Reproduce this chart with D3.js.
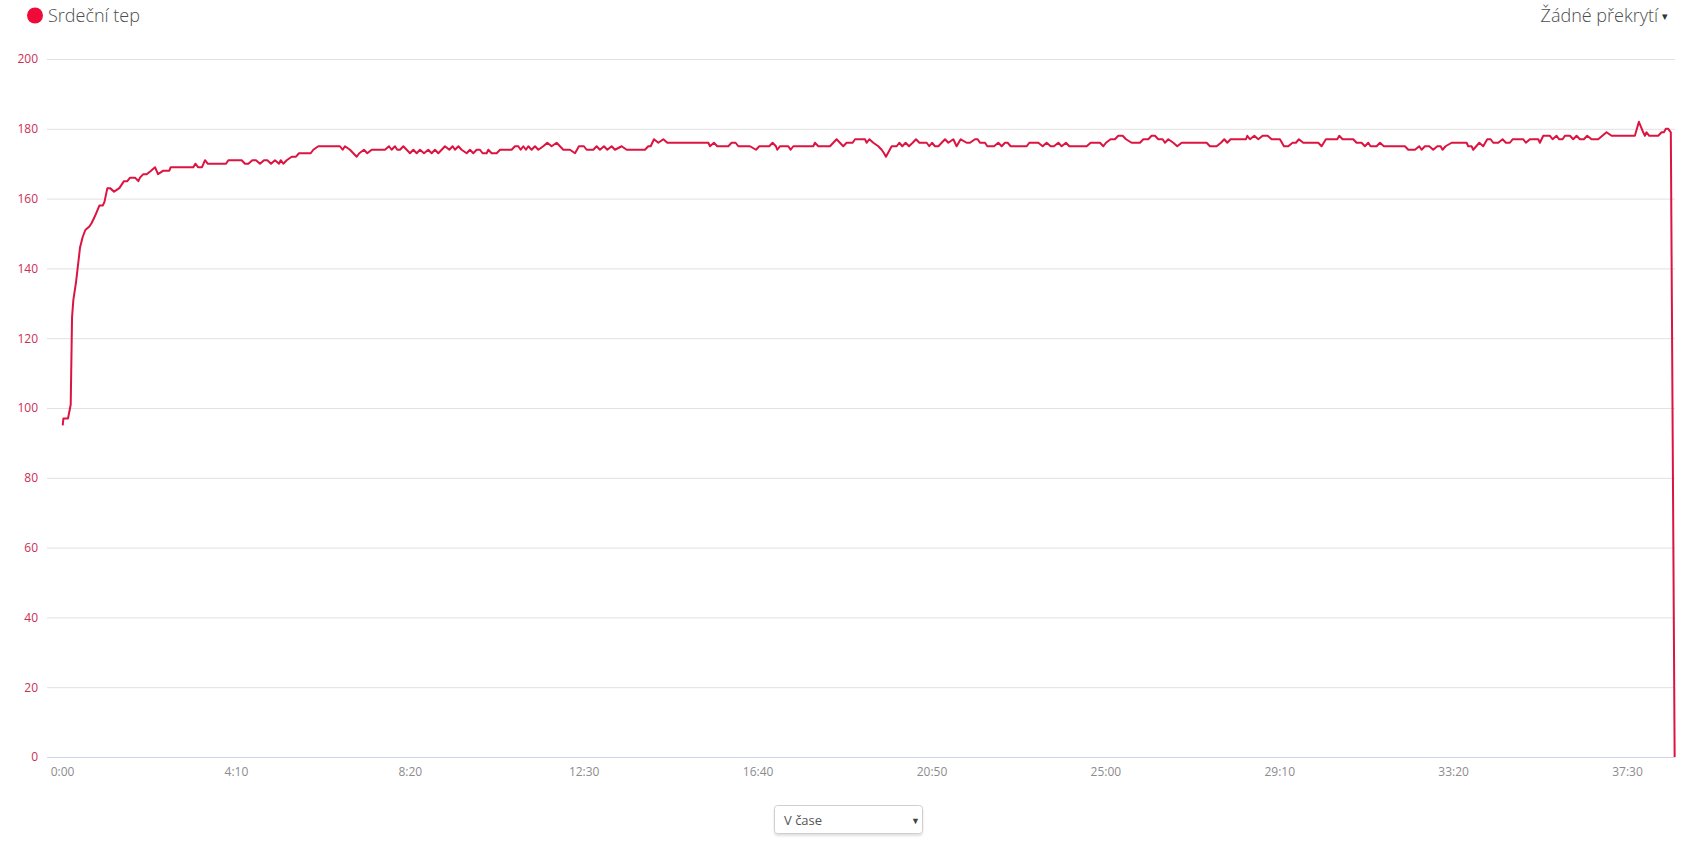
<!DOCTYPE html>
<html><head><meta charset="utf-8">
<script src="https://cdn.jsdelivr.net/npm/d3@7"></script>
<style>
body{margin:0;background:#fff;}
svg{display:block;font-family:"Open Sans",sans-serif;}
</style>
</head><body>
<svg id="chart" width="1684" height="859"></svg>
<script>
const seriesName = "Srdeční tep";
const overlayLabel = "Žádné překrytí";
const modeLabel = "V čase";

// [seconds, bpm]
const heartRateSamples = [
[1,95],[2,97],[8.6,97],[12.5,101],[14.4,126],[16.3,131],[20.1,136],[25.9,146],[29.7,149],[33.5,151],[39.3,152],[42.6,153],[47.4,155],[53.7,158],[58.5,158],[60.9,159],[65.2,163],[69,163],[74.8,162],[82.4,163],[89.1,165],[93.9,165],[97.8,166],[105,166],[109.7,165],[112.1,166],[116.9,167],[121.7,167],[128,168],[133.7,169],[138,167],[145.7,168],[154.3,168],[156.2,169],[188.8,169],[191.7,170],[195.5,169],[201.3,169],[205.6,171],[209.4,170],[235.8,170],[239.1,171],[258.3,171],[263.1,170],[267.9,170],[273.6,171],[278.9,171],[284.6,170],[290.4,171],[295.2,171],[300.5,170],[306.2,171],[312,170],[314.4,171],[318.2,170],[323,171],[330.2,172],[336.4,172],[340.7,173],[357.5,173],[361.3,174],[368.5,175],[399.6,175],[403.5,174],[406.8,175],[414,174],[423.6,172],[427.4,173],[434.1,174],[438.9,173],[445.2,174],[464.3,174],[470.1,175],[473.9,174],[478.7,175],[482,174],
[485.9,174],[490.7,175],[495.5,174],[500.3,173],[505.1,174],[509.9,173],[514.7,174],[520.4,173],[526.6,174],[531.4,173],[536.2,174],[541,173],[545.8,174],[550.6,175],[556.8,174],[561.6,175],[565,174],[569.8,175],[574.5,174],[581.7,173],[586.5,174],[591.3,173],[596.1,174],[600.9,174],[604.7,173],[610.5,173],[612.9,174],[617.7,173],[624.9,173],[629.7,174],[646.4,174],[651.2,175],[656,175],[659.4,174],[663.2,175],[667,174],[670.4,175],[675.2,174],[680,175],[684.8,174],[691.9,175],[697.7,176],[703.9,175],[711.1,176],[720.7,174],[730.3,174],[737.5,173],[743.2,175],[750.4,175],[754.2,174],[763.8,174],[768.6,175],[773.4,174],[779.2,175],[784,174],[790.2,175],[795,174],[804.6,175],[811.8,174],[838.1,174],[842.9,175],[846.3,175],[851.1,177],[857.3,176],[864.5,177],[870.2,176],[929.2,176],[931.6,175],[937.3,176],[942.1,175],[957.9,175],[962.7,176],[968.4,176],[972.3,175],[989.1,175],[997.7,174],[1002.5,175],[1016.8,175],[1021.6,176],[1026.4,175],[1028.3,174],[1032.2,175],[1044.2,175],[1047.5,174],[1051.4,175],[1080.1,175],[1082.5,176],[1087.3,175],[1104.1,175],[1113.6,177],[1118.4,176],[1123.2,175],[1128,176],[1132.8,176],
[1136.7,176],[1140.1,177],[1154.4,177],[1156.9,176],[1160.7,177],[1166.4,176],[1173.6,175],[1178.4,174],[1181.8,173],[1184.6,172],[1192.8,175],[1200,175],[1203.8,176],[1208.1,175],[1212.9,176],[1217.7,175],[1223,176],[1227.8,177],[1232.6,176],[1243.1,176],[1246.9,175],[1250.8,176],[1255.1,175],[1259.9,175],[1269.5,177],[1274.2,176],[1281.4,177],[1286.2,175],[1292,177],[1300.6,176],[1305.4,176],[1312.6,177],[1316.4,177],[1319.8,176],[1327,176],[1330.3,175],[1339.9,175],[1346.1,176],[1350.9,175],[1355.7,176],[1359.5,176],[1363.9,175],[1386.9,175],[1390.7,176],[1403.6,176],[1409.9,175],[1415.6,176],[1421.4,175],[1426.1,175],[1432.4,176],[1437.2,175],[1443.4,176],[1448.2,175],[1473.1,175],[1478.9,176],[1492.3,176],[1497.1,175],[1500.9,176],[1507.6,177],[1513.8,177],[1518.6,178],[1524.9,178],[1529.7,177],[1537.8,176],[1549.8,176],[1554.6,177],[1561.8,177],[1566.5,178],[1571.3,178],[1576.1,177],[1582.4,177],[1585.7,176],[1590.5,177],[1597.7,176],[1603.4,175],[1609.7,176],[1645.6,176],[1650.4,175],[1660,175],[1666.2,176],[1671,177],[1675.3,176],[1680.1,177],[1702.2,177],[1704.1,178],[1707.9,177],[1714.2,178],[1719.9,177],[1726.1,178],[1733.3,178],[1739.1,177],
[1751,177],[1756.8,175],[1763,175],[1769.2,176],[1774,176],[1778.3,177],[1784.5,176],[1806.1,176],[1810.9,175],[1817.1,177],[1833.4,177],[1836.3,178],[1841.1,177],[1856.4,177],[1861.2,176],[1868.4,176],[1873.2,175],[1878,176],[1881.3,175],[1890,175],[1894.8,176],[1900.5,175],[1930.7,175],[1935.5,174],[1945.1,174],[1951.3,175],[1954.7,174],[1959.5,175],[1965.7,175],[1971.4,174],[1977.2,175],[1982,175],[1984.8,174],[1989.2,175],[1997.8,176],[2019.4,176],[2021.7,175],[2026.5,175],[2028.9,174],[2037.6,176],[2043.3,175],[2049.1,177],[2053.9,177],[2057.7,176],[2064.9,176],[2071.1,177],[2075.9,176],[2081.6,176],[2085.5,177],[2100.8,177],[2104.6,176],[2110.4,177],[2122.4,177],[2124.8,176],[2129.6,178],[2139.2,178],[2143,177],[2148.7,178],[2152.6,177],[2157.4,177],[2160.7,178],[2167.9,178],[2172.7,177],[2177.5,178],[2182.3,177],[2188,177],[2192.8,178],[2199,177],[2208.6,177],[2220.6,179],[2227.8,178],[2261.3,178],[2267.1,182],[2273.3,179],[2275.7,178],[2278.1,179],[2282,178],[2294.9,178],[2299.7,179],[2303,179],[2305.9,180],[2309.3,180],[2313,179],[2318.5,0]
];

const yTickValues = [0,20,40,60,80,100,120,140,160,180,200];
const xTickSeconds = [0,250,500,750,1000,1250,1500,1750,2000,2250];
const xTickLabels = ["0:00","4:10","8:20","12:30","16:40","20:50","25:00","29:10","33:20","37:30"];
const xDomainSeconds = [-21.6, 2319];
const yDomain = [0, 200];

const plot = {left: 47, right: 1675, top: 59, bottom: 757};
const lineColor = "#dc1441";
const svg = d3.select("#chart");

const x = d3.scaleLinear().domain(xDomainSeconds).range([plot.left, plot.right]);
const y = d3.scaleLinear().domain(yDomain).range([plot.bottom, plot.top]);

// gridlines
svg.append("g").selectAll("line").data(yTickValues.filter(v => v !== 0)).join("line")
  .attr("x1", plot.left).attr("x2", plot.right)
  .attr("y1", d => y(d) + 0.5).attr("y2", d => y(d) + 0.5)
  .attr("stroke", "#e1e1e1").attr("stroke-width", 1);

// x axis line
svg.append("line").attr("x1", plot.left).attr("x2", plot.right)
  .attr("y1", y(0) + 0.5).attr("y2", y(0) + 0.5)
  .attr("stroke", "#ccd6eb");

// y axis
const yAxis = d3.axisLeft(y).tickValues(yTickValues).tickSize(0).tickPadding(0);
const yg = svg.append("g").attr("transform", `translate(${plot.left - 9},0)`).call(yAxis);
yg.select(".domain").remove();
yg.selectAll("text").attr("fill", "#cc2f55").style("font-size", "12px").style("font-family", '"Open Sans",sans-serif');

// x axis
const xAxis = d3.axisBottom(x).tickValues(xTickSeconds)
  .tickFormat((d, i) => xTickLabels[i]).tickSize(0).tickPadding(0);
const xg = svg.append("g").attr("transform", `translate(0,${plot.bottom + 10})`).call(xAxis);
xg.select(".domain").remove();
xg.selectAll("text").attr("fill", "#8c8c8c").style("font-size", "12px").style("font-family", '"Open Sans",sans-serif');

// line
const line = d3.line().x(d => x(d[0])).y(d => y(d[1]));
svg.append("path").datum(heartRateSamples)
  .attr("d", line).attr("fill", "none")
  .attr("stroke", lineColor).attr("stroke-width", 2)
  .attr("stroke-linejoin", "round");

// legend
const lg = svg.append("g");
lg.append("circle").attr("cx", 35).attr("cy", 15.5).attr("r", 8).attr("fill", "#f00a3a");
lg.append("text").attr("x", 48).attr("y", 22).text(seriesName)
  .attr("fill", "#4d4d4d").style("font-size", "18px").style("font-weight", 300);

// overlay dropdown
const og = svg.append("g");
og.append("text").attr("x", 1658).attr("y", 22).attr("text-anchor", "end").text(overlayLabel)
  .attr("fill", "#4d4d4d").style("font-size", "18px").style("font-weight", 300);
og.append("text").attr("x", 1662).attr("y", 20).text("▾")
  .attr("fill", "#333").style("font-size", "11px");

// mode select
const defs = svg.append("defs");
const f = defs.append("filter").attr("id", "sh").attr("x", "-10%").attr("y", "-20%").attr("width", "120%").attr("height", "160%");
f.append("feDropShadow").attr("dx", 0).attr("dy", 2).attr("stdDeviation", 1.2).attr("flood-color", "#000").attr("flood-opacity", 0.12);
const sg = svg.append("g");
sg.append("rect").attr("x", 774.5).attr("y", 805.5).attr("width", 148).attr("height", 28).attr("rx", 3)
  .attr("fill", "#fff").attr("stroke", "#cfcfcf").attr("filter", "url(#sh)");
sg.append("text").attr("x", 784).attr("y", 824.5).text(modeLabel)
  .attr("fill", "#555").style("font-size", "13px");
sg.append("text").attr("x", 911).attr("y", 824).text("▼")
  .attr("fill", "#444").style("font-size", "9px");
</script>
</body></html>
